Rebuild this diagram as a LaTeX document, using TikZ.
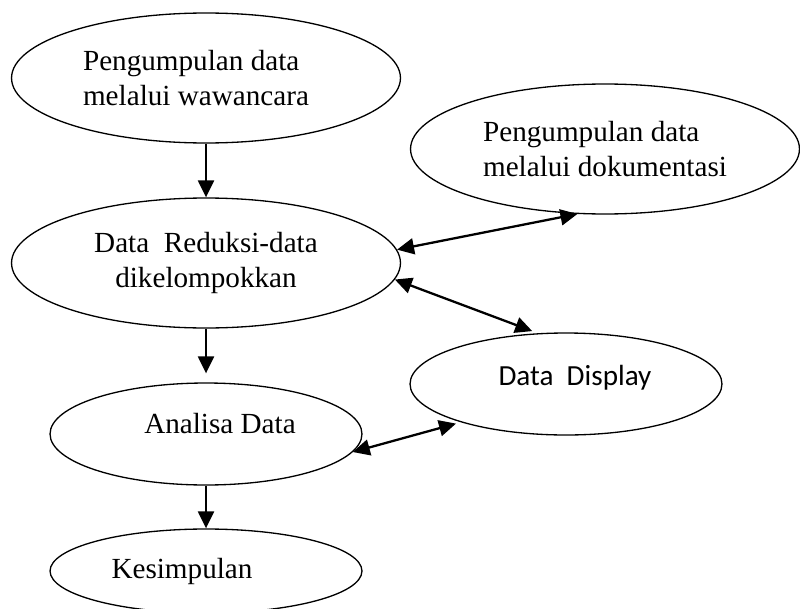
\documentclass[tikz,border=0pt]{standalone}
\usepackage{fontspec}
\setmainfont{Liberation Serif}
\newfontfamily\calibri{Carlito}
\usetikzlibrary{shapes.geometric,arrows.meta}
\begin{document}
\begin{tikzpicture}[
  x=0.02cm, y=-0.02cm,
  bubble/.style={ellipse, draw, line width=0.75pt, inner sep=0pt, font=\fontsize{16.6}{19.5}\selectfont},
  big/.style={bubble, minimum width=7.78cm, minimum height=2.6cm},
  small/.style={bubble, minimum width=6.24cm, minimum height=2.04cm},
  link/.style={line width=1.3pt, -{Triangle[length=3.4mm,width=3.2mm]}},
  both/.style={line width=1.3pt, {Triangle[length=3.4mm,width=3.2mm]}-{Triangle[length=3.4mm,width=3.2mm]}}
]
\useasboundingbox (0,0) rectangle (800,608);
\node[big, align=left] (wawancara) at (206,78) {Pengumpulan data\\melalui wawancara\hspace{0.4cm}\mbox{}};
\node[big, align=left] (dokumentasi) at (605,149) {Pengumpulan data\\melalui dokumentasi};
\node[big, align=center] (reduksi) at (206,263) {Data~~Reduksi-data\\dikelompokkan};
\node[small, text depth=0.44cm] (analisa) at (206,434) {\hspace{0.56cm}Analisa Data};
\node[small, text depth=0.36cm] (display) at (566,384) {\calibri\hspace{0.36cm}Data~~Display};
\node[bubble, minimum width=6.24cm, minimum height=1.68cm] (kesimpulan) at (206,571) {Kesimpulan\hspace{0.96cm}\mbox{}};
\draw[link] (wawancara.south) -- (reduksi.north);
\draw[both] (reduksi.4) -- (dokumentasi.247);
\draw[both, shorten >=0.12cm] (reduksi.-5) -- (display.119);
\draw[link, shorten >=0.18cm] (reduksi.south) -- (analisa.north);
\draw[both, shorten >=0.1cm] (analisa.-7.5) -- (display.200);
\draw[link] (analisa.south) -- (kesimpulan.north);
\end{tikzpicture}
\end{document}
